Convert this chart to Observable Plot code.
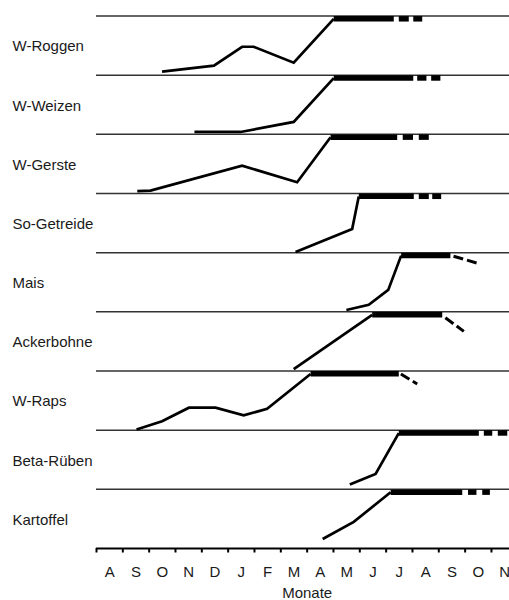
<!DOCTYPE html>
<html>
<head>
<meta charset="utf-8">
<script src="https://cdn.jsdelivr.net/npm/d3@7"></script>
<script src="https://cdn.jsdelivr.net/npm/@observablehq/plot@0.6"></script>
<style>
  html, body { margin: 0; padding: 0; background: #fff; }
</style>
</head>
<body>
<div id="chart"></div>
<script>
// Crop rows (top to bottom)
const crops = ["W-Roggen", "W-Weizen", "W-Gerste", "So-Getreide", "Mais", "Ackerbohne", "W-Raps", "Beta-Rüben", "Kartoffel"];
// Month tick labels (August .. November of following year)
const months = ["A", "S", "O", "N", "D", "J", "F", "M", "A", "M", "J", "J", "A", "S", "O", "N"];

// Growth curves: [month position, relative height within row]
const curveRoggen     = [[2.49, 0.06], [4.46, 0.16], [5.53, 0.48], [5.97, 0.48], [7.49, 0.21], [9.01, 0.95]];
const curveWeizen     = [[3.72, 0.04], [5.47, 0.04], [7.49, 0.21], [9.01, 0.95]];
const curveGerste     = [[1.55, 0.04], [2.05, 0.05], [5.53, 0.47], [7.62, 0.19], [8.89, 0.95]];
const curveSoGetreide = [[7.56, 0.01], [9.71, 0.40], [9.96, 0.95]];
const curveMais       = [[9.49, 0.03], [10.34, 0.12], [11.08, 0.37], [11.57, 0.95]];
const curveAckerbohne = [[7.49, 0.03], [10.47, 0.95]];
const curveRaps       = [[1.52, 0.01], [2.49, 0.15], [3.51, 0.38], [4.52, 0.38], [5.59, 0.25], [6.48, 0.36], [8.13, 0.95]];
const curveRueben     = [[9.62, 0.08], [10.60, 0.26], [11.48, 0.95]];
const curveKartoffel  = [[8.59, 0.16], [9.77, 0.45], [11.17, 0.95]];
const curves = [curveRoggen, curveWeizen, curveGerste, curveSoGetreide, curveMais, curveAckerbohne, curveRaps, curveRueben, curveKartoffel];

// Full-height (plateau) period: start and end month positions
const plateauStart = [9.01, 9.01, 8.89, 9.96, 11.57, 10.47, 8.13, 11.48, 11.17];
const plateauEnd   = [11.29, 12.03, 11.42, 12.05, 13.44, 13.13, 11.48, 14.52, 13.89];

// Dashed continuation along the top: [start, end] month positions per crop
const dashRoggen     = [[11.48, 11.86], [12.03, 12.37]];
const dashWeizen     = [[12.18, 12.53], [12.71, 13.06]];
const dashGerste     = [[11.63, 12.02], [12.24, 12.62]];
const dashSoGetreide = [[12.24, 12.62], [12.75, 13.09]];
const dashRueben     = [[14.71, 15.03], [15.24, 15.60]];
const dashKartoffel  = [[14.11, 14.43], [14.65, 14.94]];
const topDashes = [dashRoggen, dashWeizen, dashGerste, dashSoGetreide, [], [], [], dashRueben, dashKartoffel];

// Declining dashed tails: crop, start (month, height), end (month, height)
const tailCrop   = ["Mais", "Ackerbohne", "W-Raps"];
const tailStartT = [13.56, 13.25, 11.56];
const tailStartV = [0.94, 0.90, 0.95];
const tailEndT   = [14.48, 13.95, 12.18];
const tailEndV   = [0.82, 0.67, 0.78];

// ---- build tables from the arrays ----
const base = (i) => crops.length - 1 - i;
const curveData = crops.flatMap((c, i) => curves[i].map(([t, v]) => ({crop: c, t, y: base(i) + v})));
const plateauData = crops.map((c, i) => ({crop: c, x1: plateauStart[i], x2: plateauEnd[i], y: base(i) + 1}));
const dashData = crops.flatMap((c, i) => topDashes[i].map(([a, b]) => ({crop: c, x1: a, x2: b, y: base(i) + 1})));
const tailData = tailCrop.map((c, k) => {
  const i = crops.indexOf(c);
  return {crop: c, x1: tailStartT[k], y1: base(i) + tailStartV[k], x2: tailEndT[k], y2: base(i) + tailEndV[k]};
});

const chart = Plot.plot({
  width: 509,
  height: 600,
  marginLeft: 96,
  marginRight: 0,
  marginTop: 15.5,
  marginBottom: 52,
  x: {domain: [0, 15.685], axis: null},
  y: {domain: [0, crops.length], axis: null},
  style: {fontFamily: "'Liberation Sans', Arial, sans-serif", background: "#fff", color: "#000"},
  marks: [
    // row separator lines
    Plot.ruleY(d3.range(1, crops.length + 1), {stroke: "#333", strokeWidth: 1.5}),
    // axis line
    Plot.ruleY([0], {stroke: "#000", strokeWidth: 2}),
    // axis ticks
    Plot.ruleX(d3.range(months.length), {x: (d) => d, y1: 0, y2: 0, insetBottom: -4.5, stroke: "#000", strokeWidth: 2}),
    // growth curves
    Plot.line(curveData, {x: "t", y: "y", z: "crop", stroke: "#000", strokeWidth: 2.7, strokeLinejoin: "miter", strokeLinecap: "butt", strokeMiterlimit: 4}),
    // plateau bars
    Plot.link(plateauData, {x1: "x1", x2: "x2", y1: "y", y2: "y", dy: 2.8, stroke: "#000", strokeWidth: 5.5, strokeLinecap: "butt"}),
    // top dashes
    Plot.link(dashData, {x1: "x1", x2: "x2", y1: "y", y2: "y", dy: 2.8, stroke: "#000", strokeWidth: 5.5, strokeLinecap: "butt"}),
    // declining dashed tails
    Plot.link(tailData, {x1: "x1", y1: "y1", x2: "x2", y2: "y2", stroke: "#000", strokeWidth: 3, strokeDasharray: "10,4", strokeLinecap: "butt"}),
    // row labels
    Plot.text(crops, {y: (d, i) => base(i) + 0.5, text: (d) => d, frameAnchor: "left", textAnchor: "start", dx: -84, dy: 1, fontSize: 15, fill: "#1a1a1a"}),
    // month labels
    Plot.text(months, {x: (d, i) => i + 0.5, y: 0, text: (d) => d, dy: 24, fontSize: 15, fill: "#1a1a1a"}),
    // axis title
    Plot.text(["Monate"], {x: months.length / 2, y: 0, text: (d) => d, dy: 45, fontSize: 15, fill: "#1a1a1a"})
  ]
});
document.getElementById("chart").appendChild(chart);
</script>
</body>
</html>
